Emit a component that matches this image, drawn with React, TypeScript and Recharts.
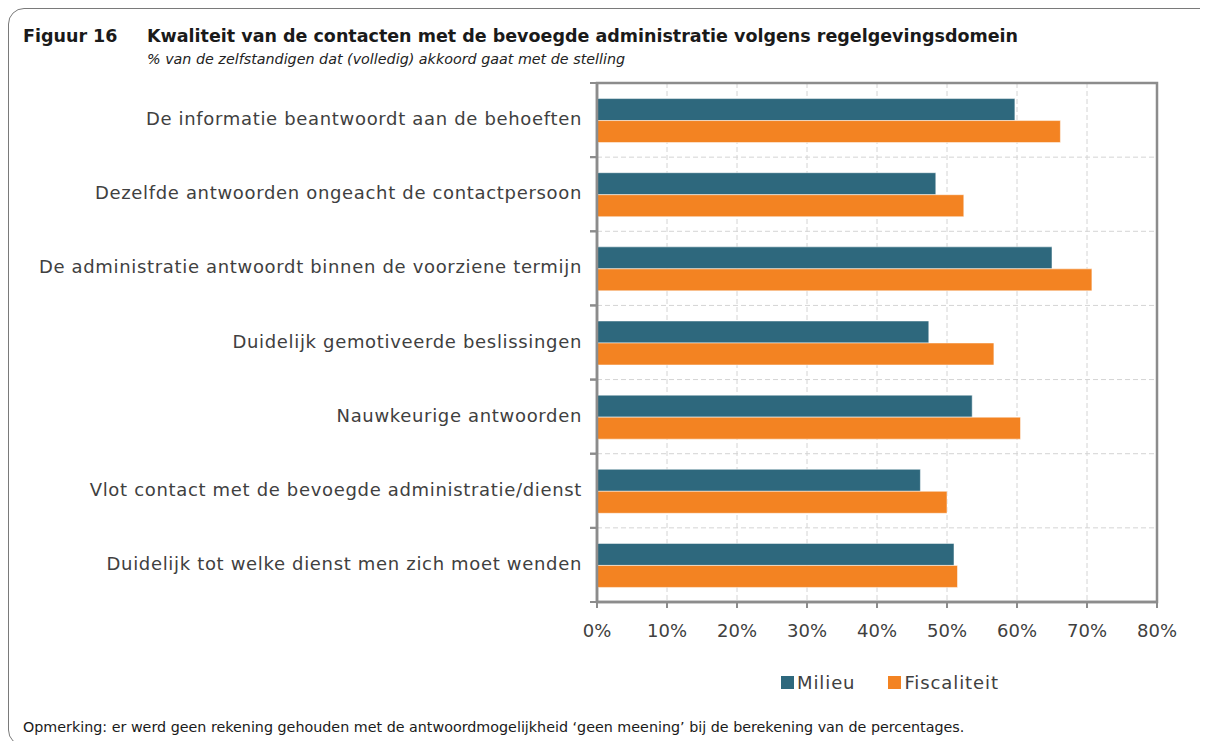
import React from "react";
import {
  BarChart,
  Bar,
  XAxis,
  YAxis,
  CartesianGrid,
  ReferenceArea,
} from "recharts";

const categories = [
  "De informatie beantwoordt aan de behoeften",
  "Dezelfde antwoorden ongeacht de contactpersoon",
  "De administratie antwoordt binnen de voorziene termijn",
  "Duidelijk gemotiveerde beslissingen",
  "Nauwkeurige antwoorden ",
  "Vlot contact met de bevoegde administratie/dienst",
  "Duidelijk tot welke dienst men zich moet wenden",
];
const milieu = [59.7, 48.4, 65.0, 47.4, 53.6, 46.2, 51.0];
const fiscaliteit = [66.2, 52.4, 70.7, 56.7, 60.5, 50.0, 51.5];
const xTicks = [0, 10, 20, 30, 40, 50, 60, 70, 80];

const font = "'DejaVu Sans', sans-serif";
const axisGrey = "#8c8c8c";
const textGrey = "#404040";
const blue = "#2e687d";
const orange = "#f38322";

const data = categories.map((name, i) => ({
  name,
  milieu: milieu[i],
  fiscaliteit: fiscaliteit[i],
}));

// label plus the small tick marks at the band edges (Excel style)
const CategoryTick = (props: any) => {
  const { x, y, payload } = props;
  const half = payload && payload.offset ? payload.offset : 0;
  return (
    <g>
      {half > 0 && (
        <>
          <line x1={x - 7} x2={x} y1={y - half} y2={y - half} stroke={axisGrey} strokeWidth={2} />
          <line x1={x - 7} x2={x} y1={y + half} y2={y + half} stroke={axisGrey} strokeWidth={2} />
        </>
      )}
      <text
        x={x - 15}
        y={y}
        dy="0.28em"
        textAnchor="end"
        fill={textGrey}
        fontSize={18}
        fontFamily={font}
        letterSpacing={0.67}
      >
        {payload.value}
      </text>
    </g>
  );
};

// horizontal grid lines at the category boundaries
const bandEdges = ({ offset }: any) =>
  categories
    .concat([""])
    .map((_, i) => offset.top + (offset.height * i) / categories.length);

const App = () => {
  return (
    <div
      style={{
        position: "relative",
        width: 1208,
        height: 749,
        margin: -8,
        overflow: "hidden",
        background: "#fff",
        fontFamily: font,
      }}
    >
      {/* frame */}
      <div
        style={{
          position: "absolute",
          left: 8,
          top: 8,
          width: 1230,
          height: 736,
          border: "1px solid #7a7a7a",
          borderRadius: 16,
        }}
      />
      <div
        style={{
          position: "absolute",
          left: 23,
          top: 26,
          fontSize: 17.5,
          fontWeight: "bold",
          color: "#1a1a1a",
          whiteSpace: "nowrap",
        }}
      >
        Figuur 16
      </div>
      <div
        style={{
          position: "absolute",
          left: 147,
          top: 26,
          fontSize: 17.5,
          fontWeight: "bold",
          color: "#1a1a1a",
          whiteSpace: "nowrap",
        }}
      >
        Kwaliteit van de contacten met de bevoegde administratie volgens
        regelgevingsdomein
      </div>
      <div
        style={{
          position: "absolute",
          left: 147,
          top: 51,
          fontSize: 14.3,
          fontStyle: "italic",
          color: "#222",
          whiteSpace: "nowrap",
        }}
      >
        % van de zelfstandigen dat (volledig) akkoord gaat met de stelling
      </div>

      <div style={{ position: "absolute", left: 0, top: 0 }}>
        <BarChart
          layout="vertical"
          width={1208}
          height={749}
          data={data}
          margin={{ top: 83, right: 51, bottom: 107, left: 0 }}
          barCategoryGap="21%"
          barGap={0}
        >
          <CartesianGrid
            stroke="#d4d4d4"
            strokeDasharray="5 3"
            horizontalCoordinatesGenerator={bandEdges}
          />
          <XAxis
            type="number"
            domain={[0, 80]}
            ticks={xTicks}
            interval={0}
            tickFormatter={(v) => `${v}%`}
            height={40}
            axisLine={{ stroke: axisGrey, strokeWidth: 2.5 }}
            tickLine={{ stroke: axisGrey, strokeWidth: 2 }}
            tickSize={6}
            tickMargin={16}
            tick={{ fill: textGrey, fontSize: 18, fontFamily: font }}
          />
          <YAxis
            type="category"
            dataKey="name"
            width={597}
            interval={0}
            tickLine={false}
            tickSize={0}
            tickMargin={0}
            axisLine={{ stroke: axisGrey, strokeWidth: 2.5 }}
            tick={<CategoryTick />}
          />
          <ReferenceArea
            x1={0}
            x2={80}
            fill="none"
            stroke={axisGrey}
            strokeWidth={2.5}
          />
          <Bar
            dataKey="milieu"
            name="Milieu"
            fill={blue}
            stroke="rgba(255,255,255,0.5)"
            isAnimationActive={false}
          />
          <Bar
            dataKey="fiscaliteit"
            name="Fiscaliteit"
            fill={orange}
            stroke="rgba(255,255,255,0.5)"
            isAnimationActive={false}
          />
        </BarChart>
      </div>

      {/* legend */}
      <div
        style={{
          position: "absolute",
          left: 781,
          top: 672,
          display: "flex",
          alignItems: "center",
          fontSize: 18,
          letterSpacing: 0.9,
          color: textGrey,
          whiteSpace: "nowrap",
        }}
      >
        <span style={{ width: 13, height: 13, background: blue, marginRight: 3 }} />
        <span style={{ marginRight: 33 }}>Milieu</span>
        <span style={{ width: 13, height: 13, background: orange, marginRight: 3 }} />
        <span>Fiscaliteit</span>
      </div>

      <div
        style={{
          position: "absolute",
          left: 23,
          top: 719,
          fontSize: 14.3,
          color: "#1a1a1a",
          whiteSpace: "nowrap",
        }}
      >
        Opmerking: er werd geen rekening gehouden met de antwoordmogelijkheid
        ‘geen meening’ bij de berekening van de percentages.
      </div>
    </div>
  );
};

export default App;
